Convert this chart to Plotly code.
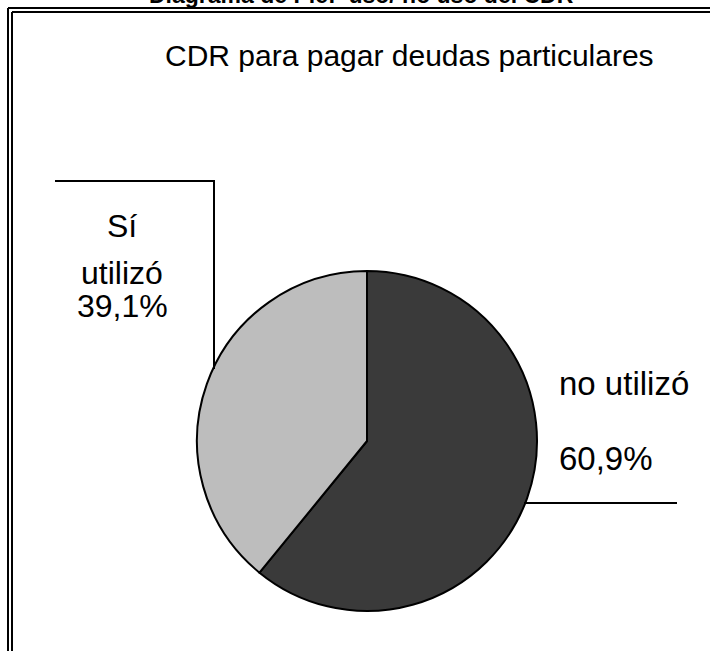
import plotly.graph_objects as go

W, H = 710, 651

# datos
categorias = ['no utilizó', 'Sí utilizó']
porcentajes = [60.9, 39.1]
colores = ['#3a3a3a', '#bdbdbd']
titulo_sup = 'Diagrama de Pie:  uso/ no uso del CDR'
titulo = 'CDR para pagar deudas particulares'
etiqueta_si = ['Sí', 'utilizó', '39,1%']
etiqueta_no = ['no utilizó', '60,9%']

FONT = 'Liberation Sans, Arial, sans-serif'


def px(x):
  return x / W


def py(y):
  return 1 - y / H


fig = go.Figure()

# pie centre ~ (367, 441), radius ~170 px
cx, cy, r = 367, 441, 170
fig.add_trace(
  go.Pie(
    labels=categorias,
    values=porcentajes,
    sort=False,
    direction='clockwise',
    rotation=0,
    textinfo='none',
    hoverinfo='label+percent',
    marker=dict(colors=colores, line=dict(color='black', width=2)),
    domain=dict(x=[px(cx - r), px(cx + r)], y=[py(cy + r), py(cy - r)]),
    showlegend=False,
  )
)

annotations = []
# top title, cut off by the page edge
annotations.append(dict(text=f'<b>{titulo_sup}</b>', x=px(361), y=py(-5), xanchor='center', yanchor='middle',
                        font=dict(family=FONT, size=23, color='black')))
annotations.append(dict(text=titulo, x=px(409), y=py(55), xanchor='center', yanchor='middle',
                        font=dict(family=FONT, size=30, color='black')))

for txt, yy in zip(etiqueta_si, [226, 273, 306]):
  annotations.append(dict(text=txt, x=px(122), y=py(yy), xanchor='center', yanchor='middle',
                          font=dict(family=FONT, size=32, color='black')))
for txt, yy in zip(etiqueta_no, [383, 459]):
  annotations.append(dict(text=txt, x=px(557), y=py(yy), xanchor='left', yanchor='middle',
                          font=dict(family=FONT, size=33, color='black')))

for a in annotations:
  a.update(xref='paper', yref='paper', showarrow=False)

shapes = []
# double frame on top and left
for off in (8, 12):
  shapes.append(dict(type='line', x0=px(off), x1=px(off), y0=py(off), y1=0))
  shapes.append(dict(type='line', x0=px(off), x1=1, y0=py(off), y1=py(off)))
# leader lines
shapes.append(dict(type='path', path=f'M {px(55)} {py(181)} L {px(214)} {py(181)} L {px(214)} {py(369)}'))
shapes.append(dict(type='line', x0=px(524), x1=px(677), y0=py(503), y1=py(503)))
for s in shapes:
  s.update(xref='paper', yref='paper', line=dict(color='black', width=2))

fig.update_layout(
  width=W,
  height=H,
  margin=dict(l=0, r=0, t=0, b=0),
  paper_bgcolor='white',
  plot_bgcolor='white',
  annotations=annotations,
  shapes=shapes,
)

fig.write_html('out.html', config={'displayModeBar': False},
               post_script="document.body.style.margin='0';")
